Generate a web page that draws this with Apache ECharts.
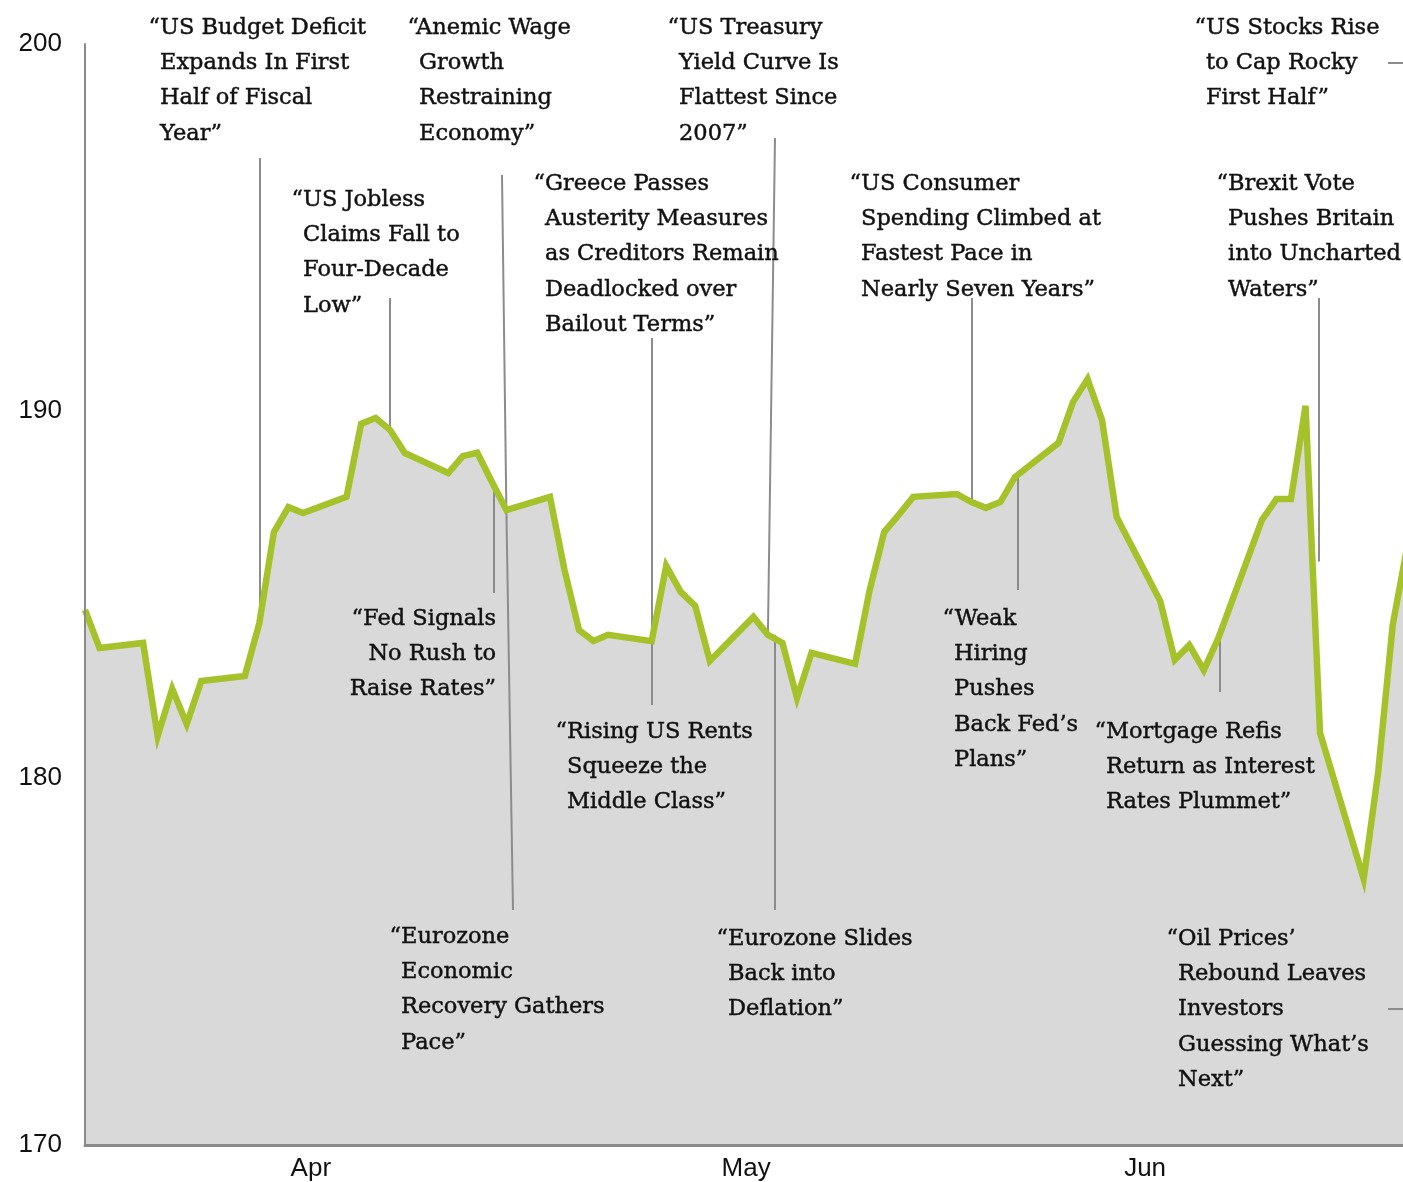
<!DOCTYPE html>
<html><head><meta charset="utf-8">
<script src="https://cdn.jsdelivr.net/npm/echarts@6/dist/echarts.min.js"></script>
<style>html,body{margin:0;padding:0;background:#fff}#c{width:1403px;height:1182px}</style>
</head><body><div id="c"></div>
<script>
// ---- data ----
const dates = [
 '2016-03-31','2016-04-01','2016-04-04','2016-04-05','2016-04-06','2016-04-07','2016-04-08',
 '2016-04-11','2016-04-12','2016-04-13','2016-04-14','2016-04-15',
 '2016-04-18','2016-04-19','2016-04-20','2016-04-21','2016-04-22',
 '2016-04-25','2016-04-26','2016-04-27','2016-04-28','2016-04-29',
 '2016-05-02','2016-05-03','2016-05-04','2016-05-05','2016-05-06',
 '2016-05-09','2016-05-10','2016-05-11','2016-05-12','2016-05-13',
 '2016-05-16','2016-05-17','2016-05-18','2016-05-19','2016-05-20',
 '2016-05-23','2016-05-24','2016-05-25','2016-05-26','2016-05-27',
 '2016-05-30','2016-05-31','2016-06-01','2016-06-02','2016-06-03',
 '2016-06-06','2016-06-07','2016-06-08','2016-06-09','2016-06-10',
 '2016-06-13','2016-06-14','2016-06-15','2016-06-16','2016-06-17',
 '2016-06-20','2016-06-21','2016-06-22','2016-06-23','2016-06-24',
 '2016-06-27','2016-06-28','2016-06-29','2016-06-30'
];
const values = [
 184.58,183.54,183.68,181.14,182.43,181.47,182.64,
 182.78,184.22,186.70,187.38,187.22,
 187.66,189.65,189.81,189.48,188.86,
 188.31,188.77,188.86,188.07,187.30,
 187.66,185.67,184.03,183.73,183.90,
 183.73,185.78,185.07,184.69,183.19,
 184.39,183.90,183.68,182.18,183.41,
 183.11,185.12,186.70,187.17,187.66,
 187.74,187.52,187.36,187.52,188.20,
 189.13,190.25,190.87,189.75,187.11,
 184.82,183.22,183.62,182.94,183.81,
 187.03,187.60,187.60,190.14,181.23,
 177.25,180.16,184.17,186.30
];
const yTicks = [170, 180, 190, 200];
const monthLabels = ['Apr', 'May', 'Jun'];
const monthLabelDates = ['2016-04-15 13:00', '2016-05-15 12:00', '2016-06-11 23:00'];
const axisStart = '2016-03-31 00:00';
const axisEnd = '2016-06-29 17:00';

// ---- annotations (headline text) ----
const annotations = [
 {lines:['\u201CUS Budget Deficit','Expands In First','Half of Fiscal','Year\u201D'], x:160, y:28,
  leader:{x:260, y:158, date:'2016-04-12', mode:'vertical'}},
 {lines:['\u201CAnemic Wage','Growth','Restraining','Economy\u201D'], x:419, y:28,
  leader:{x:502, y:175, date:'2016-04-29', mode:'direct'}},
 {lines:['\u201CUS Treasury','Yield Curve Is','Flattest Since','2007\u201D'], x:679, y:28,
  leader:{x:775, y:138, date:'2016-05-17', mode:'direct'}},
 {lines:['\u201CUS Stocks Rise','to Cap Rocky','First Half\u201D'], x:1206, y:28,
  leader:{x:1388, y:63, date:'2016-06-30', mode:'horizontal'}},
 {lines:['\u201CUS Jobless','Claims Fall to','Four-Decade','Low\u201D'], x:303, y:200,
  leader:{x:390, y:298, date:'2016-04-21', mode:'vertical'}},
 {lines:['\u201CGreece Passes','Austerity Measures','as Creditors Remain','Deadlocked over','Bailout Terms\u201D'], x:545, y:184,
  leader:{x:652, y:338, date:'2016-05-09', mode:'vertical'}},
 {lines:['\u201CUS Consumer','Spending Climbed at','Fastest Pace in','Nearly Seven Years\u201D'], x:861, y:184,
  leader:{x:972, y:298, date:'2016-05-31', mode:'vertical'}},
 {lines:['\u201CBrexit Vote','Pushes Britain','into Uncharted','Waters\u201D'], x:1228, y:184,
  leader:{x:1319, y:298, date:'2016-06-24', value:185.9, mode:'vertical'}},
 {lines:['\u201CFed Signals','No Rush to','Raise Rates\u201D'], x:496, y:619, align:'right',
  leader:{x:494, y:593, date:'2016-04-28', mode:'vertical'}},
 {lines:['\u201CWeak','Hiring','Pushes','Back Fed\u2019s','Plans\u201D'], x:954, y:619,
  leader:{x:1018, y:590, date:'2016-06-03', mode:'vertical'}},
 {lines:['\u201CRising US Rents','Squeeze the','Middle Class\u201D'], x:567, y:732,
  leader:{x:652, y:705, date:'2016-05-09', mode:'vertical'}},
 {lines:['\u201CMortgage Refis','Return as Interest','Rates Plummet\u201D'], x:1106, y:732,
  leader:{x:1220, y:692, date:'2016-06-17', mode:'vertical'}},
 {lines:['\u201CEurozone','Economic','Recovery Gathers','Pace\u201D'], x:401, y:937,
  leader:{x:513, y:910, date:'2016-04-29', mode:'direct'}},
 {lines:['\u201CEurozone Slides','Back into','Deflation\u201D'], x:728, y:939,
  leader:{x:775, y:910, date:'2016-05-17', mode:'vertical'}},
 {lines:['\u201COil Prices\u2019','Rebound Leaves','Investors','Guessing What\u2019s','Next\u201D'], x:1178, y:939,
  leader:{x:1388, y:1009, date:'2016-06-30', mode:'horizontal'}}
];

function ts(s) {
  const [d, t] = s.split(' ');
  const [Y, M, D] = d.split('-').map(Number);
  let h = 0, m = 0;
  if (t) { [h, m] = t.split(':').map(Number); }
  return new Date(Y, M - 1, D, h, m).getTime();
}
const monthTs = monthLabelDates.map(ts);
const seriesData = dates.map((d, i) => [ts(d), values[i]]);

const AXIS_GRAY = '#8a8a8a';
const GREEN = '#a6c22b';
const chart = echarts.init(document.getElementById('c'), null, {renderer: 'canvas'});
const option = {
  animation: false,
  backgroundColor: '#ffffff',
  grid: {left: 85, top: 44, right: 0, bottom: 37, containLabel: false},
  xAxis: {
    type: 'value', min: ts(axisStart), max: ts(axisEnd), z: 6, scale: true,
    axisLine: {show: true, lineStyle: {color: AXIS_GRAY, width: 3}},
    axisTick: {show: false},
    splitLine: {show: false},
    axisLabel: {
      customValues: monthTs,
      margin: 11,
      color: '#111', fontSize: 26, fontFamily: 'Liberation Sans, Arial, sans-serif',
      formatter: function (v) {
        const i = monthTs.findIndex(t => Math.abs(t - v) < 3600e3);
        return i >= 0 ? monthLabels[i] : '';
      }
    }
  },
  yAxis: {
    type: 'value', min: yTicks[0], max: yTicks[yTicks.length - 1], interval: 10, z: 6,
    axisLine: {show: true, lineStyle: {color: AXIS_GRAY, width: 2}},
    axisTick: {show: false},
    splitLine: {show: false},
    axisLabel: {margin: 23, color: '#111', fontSize: 26, fontFamily: 'Liberation Sans, Arial, sans-serif'}
  },
  series: [
    {type: 'line', data: seriesData, symbol: 'none', z: 1, silent: true,
     lineStyle: {width: 0, opacity: 0}, areaStyle: {color: '#d9d9d9', opacity: 1}},
    {type: 'line', data: seriesData, symbol: 'none', z: 3, silent: true,
     lineStyle: {width: 6.5, color: GREEN, join: 'miter'}}
  ]
};
chart.setOption(option);

const FONT_SIZE = 22.5, FONT_FAMILY = 'DejaVu Serif', LINE_H = 35.3;
const ctx = document.createElement('canvas').getContext('2d');
ctx.font = FONT_SIZE + 'px "' + FONT_FAMILY + '"';
const qw = ctx.measureText('\u201C').width;
const toPx = (d, v) => chart.convertToPixel({xAxisIndex: 0, yAxisIndex: 0}, [ts(d), v]);
const valueAt = d => values[dates.indexOf(d)];
const els = [];
annotations.forEach(a => {
  a.lines.forEach((ln, i) => {
    const right = a.align === 'right';
    const x = right ? a.x : a.x - (i === 0 ? qw : 0);
    els.push({type: 'text', z: 10, silent: true,
      style: {text: ln, x: x, y: a.y + i * LINE_H, fontSize: FONT_SIZE, fontFamily: FONT_FAMILY,
        fill: '#111', stroke: '#111', lineWidth: 0.45,
        textAlign: right ? 'right' : 'left', textVerticalAlign: 'middle',
        align: right ? 'right' : 'left', verticalAlign: 'middle'}});
  });
  const L = a.leader;
  const p = toPx(L.date, L.value != null ? L.value : valueAt(L.date));
  let x2 = p[0], y2 = p[1];
  if (L.mode === 'vertical') x2 = L.x;
  if (L.mode === 'horizontal') y2 = L.y;
  els.push({type: 'line', z: 2, silent: true,
    shape: {x1: L.x, y1: L.y, x2: x2, y2: y2},
    style: {stroke: '#8c8c8c', lineWidth: 2}});
});
chart.setOption({graphic: {elements: els}});
</script>
</body></html>
